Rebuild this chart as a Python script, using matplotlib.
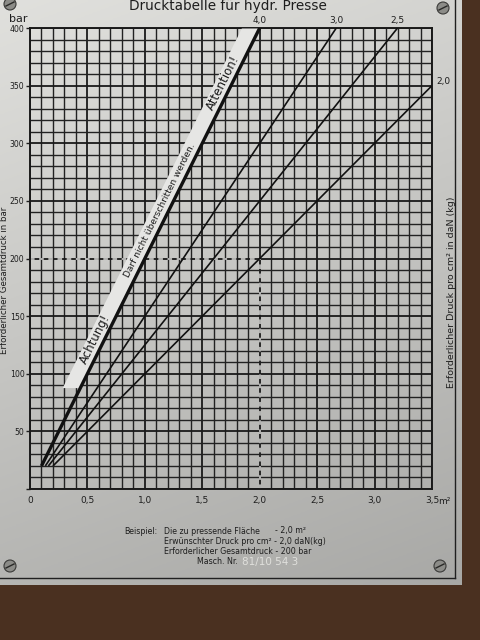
import math
import numpy as np
import matplotlib.pyplot as plt
from matplotlib.patches import Circle

# chart values
pressures = [4.0, 3.0, 2.5, 2.0]              # daN/cm2 per line
line_labels = ['4,0', '3,0', '2,5', '2,0']
start_bar = 20                                # lines start at 20 bar
bar_per_unit = 50                             # bar = 50 * p * area
x_ticks = [0, 0.5, 1.0, 1.5, 2.0, 2.5, 3.0, 3.5]
x_ticklabels = ['0', '0,5', '1,0', '1,5', '2,0', '2,5', '3,0', '3,5']
y_ticks = [0, 50, 100, 150, 200, 250, 300, 350, 400]
y_ticklabels = ['', '50', '100', '150', '200', '250', '300', '350', '400']
example_area = 2.0
example_bar = 200
warn_from_bar = 88

narrow = ['Liberation Sans Narrow', 'DejaVu Sans']
ink = '#1e1e1e'

fig = plt.figure(figsize=(4.8, 6.4), dpi=100)
fig.patch.set_facecolor('#4a3020')

# background plate (pixel coords)
bg = fig.add_axes([0, 0, 1, 1])
bg.set_xlim(0, 480)
bg.set_ylim(640, 0)
bg.axis('off')
gy = np.linspace(0, 1, 200)[:, None]
gx = np.linspace(0, 1, 200)[None, :]
shade = 0.88 - 0.17 * gy - 0.05 * gx
plate = np.dstack([shade, shade, shade * 0.985])
bg.imshow(plate, extent=[0, 462, 585, 0], aspect='auto', zorder=0)
bg.plot([455, 455], [0, 578], color='#202020', lw=1.0, zorder=1)
bg.plot([0, 455], [578, 578], color='#202020', lw=1.0, zorder=1)
for cx, cy in [(10, 4), (443, 8), (10, 566), (440, 566)]:
    bg.add_patch(Circle((cx, cy), 6, facecolor='#8c8c88', edgecolor='#3a3a38', lw=0.8, zorder=2))
    bg.plot([cx - 4, cx + 4], [cy + 2, cy - 2], color='#2a2a28', lw=1.0, zorder=3)

# chart
ax = fig.add_axes([30 / 480, 1 - 489 / 640, 402 / 480, 461 / 640])
ax.set_facecolor('none')
ax.set_xlim(0, 3.5)
ax.set_ylim(0, 400)
ax.set_xticks(np.arange(0, 3.51, 0.1), minor=True)
ax.set_yticks(np.arange(0, 401, 10), minor=True)
ax.set_xticks(x_ticks)
ax.set_xticklabels(x_ticklabels, family=narrow, fontsize=6.5, color=ink)
ax.set_yticks(y_ticks)
ax.set_yticklabels(y_ticklabels, family=narrow, fontsize=5.6, color=ink)
ax.tick_params(axis='x', which='both', length=0, pad=5)
ax.tick_params(axis='y', which='major', length=3, width=1, color=ink, pad=1)
ax.tick_params(axis='y', which='minor', length=0)
ax.set_axisbelow(True)
ax.grid(which='minor', color='#222222', lw=1.0)
ax.grid(which='major', color='#1a1a1a', lw=1.3)
for s in ax.spines.values():
    s.set_color('#1a1a1a')
    s.set_linewidth(1.4)

# example dashed guides
ax.plot([0, example_area], [example_bar, example_bar], color='#dcdcda', lw=1.1,
        ls=(0, (3, 3)), zorder=1.5)
ax.plot([example_area, example_area], [0, example_bar], color='#dcdcda', lw=1.1,
        ls=(0, (3, 3)), zorder=1.5)

# warning band along the 4.0 line
p_max = pressures[0]
k = bar_per_unit * p_max
band_w = 0.16
bars = np.array([warn_from_bar, 400])
ax.fill_betweenx(bars, bars / k - band_w, bars / k, color='#e6e6e4', lw=0, zorder=3)

for p, lab in zip(pressures, line_labels):
    slope = bar_per_unit * p
    a0 = start_bar / slope
    a1 = min(3.5, 400 / slope)
    ax.plot([a0, a1], [start_bar, slope * a1], color='#111111',
            lw=2.4 if p == p_max else 1.2, zorder=4, solid_capstyle='butt')
    if slope * a1 >= 400:
        ax.annotate(lab, (a1, 400), xytext=(0, 2), textcoords='offset points',
                    ha='center', va='bottom', fontsize=6.5, family=narrow,
                    color=ink, annotation_clip=False)
    else:
        ax.annotate(lab, (a1, slope * a1), xytext=(3, 0), textcoords='offset points',
                    ha='left', va='bottom', fontsize=6.5, family=narrow,
                    color=ink, annotation_clip=False)

# rotated warning texts
pa = ax.transData.transform((0, 0))
pb = ax.transData.transform((1, k))
angle = math.degrees(math.atan2(pb[1] - pa[1], pb[0] - pa[0]))
for txt, ac, fs in [('Achtung!', 0.57, 8.5),
                    ('Darf nicht überschritten werden.', 1.13, 6.5),
                    ('Attention!', 1.68, 8.5)]:
    ax.text(ac, k * (ac + band_w / 2), txt, rotation=angle, rotation_mode='anchor',
            ha='center', va='center', fontsize=fs, color='#1a1a1a', zorder=5)

ax.text(-0.03, 1.008, 'bar', transform=ax.transAxes, ha='center', va='bottom',
        fontsize=8, color=ink)
ax.text(1.015, -0.018, 'm²', transform=ax.transAxes, ha='left', va='top',
        fontsize=6.5, color=ink)

fig.text(228 / 480, 1 - 6 / 640, 'Drucktabelle für hydr. Presse', ha='center', va='center',
         fontsize=9.8, color=ink)
fig.text(5 / 480, 1 - 280 / 640, 'Erforderlicher Gesamtdruck in bar', rotation=90,
         ha='center', va='center', fontsize=6.2, color=ink)
fig.text(451 / 480, 1 - 292 / 640, 'Erforderlicher Druck pro cm² in daN (kg)', rotation=90,
         ha='center', va='center', fontsize=6.8, color=ink)

# example block
fs = 5.7
fig.text(124 / 480, 1 - 531 / 640, 'Beispiel:', ha='left', va='center', fontsize=fs, color=ink)
fig.text(164 / 480, 1 - 531 / 640, 'Die zu pressende Fläche', ha='left', va='center', fontsize=fs, color=ink)
fig.text(275 / 480, 1 - 531 / 640, '- 2,0 m²', ha='left', va='center', fontsize=fs, color=ink)
fig.text(164 / 480, 1 - 541 / 640, 'Erwünschter Druck pro cm² - 2,0 daN(kg)', ha='left', va='center',
         fontsize=fs, color=ink)
fig.text(164 / 480, 1 - 551 / 640, 'Erforderlicher Gesamtdruck - 200 bar', ha='left', va='center',
         fontsize=fs, color=ink)
fig.text(238 / 480, 1 - 562 / 640, 'Masch. Nr.', ha='right', va='center', fontsize=fs, color=ink)
fig.text(242 / 480, 1 - 562 / 640, '81/10 54 3', ha='left', va='center', fontsize=7.5,
         family=narrow, color='#e0e0dc')

plt.savefig('out.png', dpi=100, facecolor=fig.get_facecolor())
